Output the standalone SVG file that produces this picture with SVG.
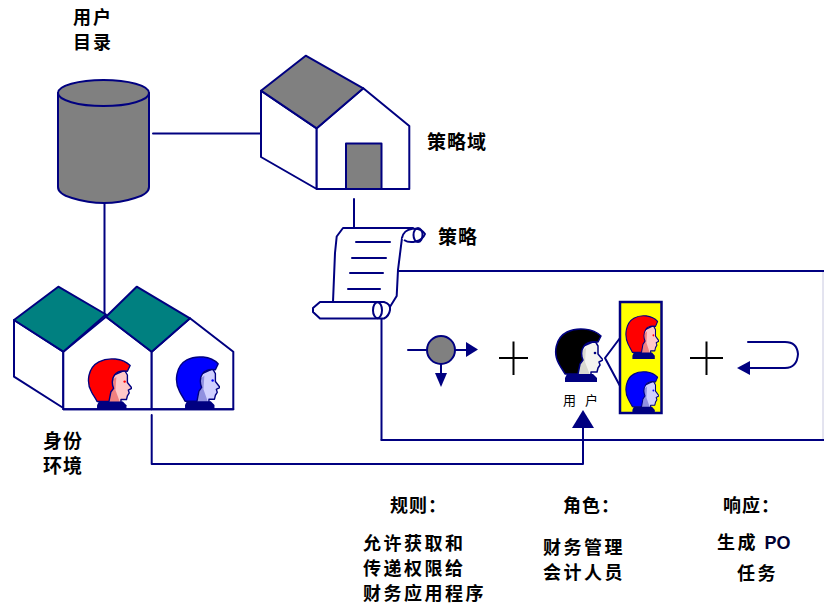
<svg xmlns="http://www.w3.org/2000/svg" xmlns:xlink="http://www.w3.org/1999/xlink" width="824" height="605" viewBox="0 0 824 605">
  <style>
    .ln { fill: none; stroke: #000080; stroke-width: 2; stroke-linejoin: round; stroke-linecap: round; }
    .wall { fill: #ffffff; stroke: #000080; stroke-width: 2; stroke-linejoin: round; }
    .gray { fill: #808080; stroke: #000080; stroke-width: 2; stroke-linejoin: round; }
    .teal { fill: #008080; stroke: #000080; stroke-width: 2; stroke-linejoin: round; }
    .plus { stroke: #000000; stroke-width: 2; fill: none; }
    .lbl { font-family: "Noto Sans CJK SC", "Liberation Sans", sans-serif; font-weight: bold; font-size: 19px; letter-spacing: 1px; fill: #000000; }
    .lbl2 { font-family: "Noto Sans CJK SC", "Liberation Sans", sans-serif; font-weight: bold; font-size: 18px; letter-spacing: 2px; fill: #000000; }
    .txt { font-family: "Noto Sans CJK SC", "Liberation Sans", sans-serif; font-weight: bold; font-size: 18px; letter-spacing: 2.5px; fill: #000000; }
    .hdr { font-family: "Noto Sans CJK SC", "Liberation Sans", sans-serif; font-weight: bold; font-size: 18px; letter-spacing: 1px; fill: #000000; }
    .small { font-family: "Noto Sans CJK SC", "Liberation Sans", sans-serif; font-size: 13px; letter-spacing: 9px; fill: #000000; }
  </style>
  <defs>
    <!-- profile head facing right; hair uses currentColor, skin uses CSS variables -->
    <symbol id="head" viewBox="0 0 50 54" preserveAspectRatio="none">
      <path d="M26,20 L42,13 L45,18 L45,26 L50,32 L46,34 L47,37 L45,40 L44,44 L38,44 L38,48 L24,48 L25,38 L24,30 Z" style="fill: var(--skin)" stroke="#000080" stroke-width="1.5" stroke-linejoin="round"/>
      <path d="M27,24 L33,20 L32,34 L37,47 L25,47 L26,38 Z" style="fill: var(--shade)"/>
      <path d="M6,36 C0,26 2,10 14,4 C24,-1 40,0 48,8 L45,14 C38,13 34,14 31,18 C28,22 28,28 30,32 L27,36 L25,46 L12,46 C10,42 8,40 6,36 Z" fill="currentColor" stroke="#000080" stroke-width="1.5" stroke-linejoin="round"/>
      <circle cx="42" cy="25" r="1.3" style="fill: var(--eye)"/>
      <path d="M14,46 L40,46 L44,50 L44,54 L12,54 L12,50 Z" fill="#000080"/>
    </symbol>
  </defs>

  <!-- connectors -->
  <g id="connectors">
    <line class="ln" x1="153" y1="133.5" x2="261" y2="133.5"/>
    <line class="ln" x1="104.5" y1="203" x2="104.5" y2="314"/>
    <line class="ln" x1="354" y1="199" x2="354" y2="228"/>
    <line class="ln" x1="398" y1="271" x2="824" y2="271"/>
    <line class="ln" x1="381.5" y1="318" x2="381.5" y2="440"/>
    <line class="ln" x1="381.5" y1="440" x2="824" y2="440"/>
    <line x1="823" y1="272" x2="823" y2="439" stroke="#c8c8e0" stroke-width="1"/>
    <polyline class="ln" points="151.7,415 151.7,464 583,464 583,427"/>
    <polygon points="583,410 572,428 594,428" fill="#000080"/>
    <polyline class="ln" points="620,338 605,358 620,386"/>
  </g>

  <!-- user directory -->
  <g id="user-directory">
    <path class="gray" d="M58,93 L58,187 Q58,194 72,198 Q88,203 104,203 Q120,203 135,198 Q149,194 149,187 L149,93 Z"/>
    <ellipse class="gray" cx="103.5" cy="93" rx="45.5" ry="13"/>
    <text class="lbl2" x="73" y="24">用户<tspan x="73" dy="25">目录</tspan></text>
  </g>

  <!-- policy domain -->
  <g id="policy-domain">
    <polygon class="wall" points="261,90.7 316.7,128.3 316.7,189 261,157"/>
    <polygon class="wall" points="316.7,128.3 363.3,88.3 409.3,126 409.3,189 316.7,189"/>
    <polygon class="gray" points="305.7,55.7 261,90.7 316.7,128.3 363.3,88.3"/>
    <rect class="gray" x="346" y="143.5" width="35.5" height="45.5"/>
    <text class="lbl" x="427" y="149">策略域</text>
  </g>

  <!-- policy scroll -->
  <g id="policy">
    <path class="wall" d="M343,228 L413,228 L402,238 L398,270 L396.7,296 L388,310 L385,317 L333,302 L335,253 L336.7,236.5 Z"/>
    <path class="wall" d="M402,238 C404,227 420,226 425,234 C422,242 410,244 404,240"/>
    <ellipse class="ln" cx="418" cy="235" rx="4.5" ry="7"/>
    <line class="ln" x1="356" y1="242" x2="390" y2="242"/>
    <line class="ln" x1="352" y1="258" x2="386" y2="258"/>
    <line class="ln" x1="350" y1="273" x2="383" y2="273"/>
    <line class="ln" x1="348" y1="289" x2="380" y2="289"/>
    <path class="wall" d="M320,302 L384,302 Q391,304 390,310 Q389,316 384,318.5 L320,318.5 L313,312 L313,308 Z"/>
    <ellipse class="ln" cx="377.5" cy="310.2" rx="4.5" ry="8"/>
    <text class="lbl" x="438" y="244">策略</text>
  </g>

  <!-- identity environment -->
  <g id="identity-environment">
    <polygon class="wall" points="14,320 63.3,351.7 63.3,408 14,376.7"/>
    <polygon class="wall" points="63.3,351.7 106,316.7 151.7,351.7 151.7,409.3 63.3,409.3"/>
    <polygon class="wall" points="151.7,351.7 190,318.3 233.3,351.7 233.3,409.3 151.7,409.3"/>
    <polygon class="teal" points="14,320 58.3,286.7 106,314.5 63.3,351.7"/>
    <polygon class="teal" points="106,316.7 136.7,286.7 190,318.3 151.7,351.7"/>
    <use xlink:href="#head" x="86" y="358" width="46" height="51" style="color:#ff0000; --skin:#ffc8c8; --shade:#f08080; --eye:#ff0000"/>
    <use xlink:href="#head" x="174" y="356" width="46" height="53" style="color:#0000ff; --skin:#d0d0ff; --shade:#9090e0; --eye:#0000ff"/>
    <line class="ln" x1="63.3" y1="409.3" x2="233.3" y2="409.3"/>
    <text class="lbl" x="43" y="448">身份<tspan x="43" dy="25">环境</tspan></text>
  </g>

  <!-- rule: process node -->
  <g id="rule-node">
    <line class="ln" x1="408" y1="350" x2="427" y2="350"/>
    <line class="ln" x1="455" y1="350" x2="467" y2="350"/>
    <line class="ln" x1="441" y1="364" x2="441" y2="374"/>
    <circle class="gray" cx="441" cy="350" r="14"/>
    <polygon points="466,342 478,349.5 466,357" fill="#000080"/>
    <polygon points="435,373 447,373 441,387" fill="#000080"/>
  </g>

  <g id="plus-1"><path class="plus" d="M499,358 H528 M513.5,341.5 V375"/></g>

  <!-- role: user -->
  <g id="user">
    <use xlink:href="#head" x="553" y="328" width="50" height="54" style="color:#000000; --skin:#f4f4f0; --shade:#d8d8d0; --eye:#000080"/>
    <text class="small" x="563" y="405">用户</text>
  </g>

  <g id="roles">
    <rect x="620" y="302" width="41.5" height="111" fill="#ffff00" stroke="#000080" stroke-width="2.5"/>
    <use xlink:href="#head" x="624" y="315" width="35" height="44" style="color:#ff0000; --skin:#ffc8c8; --shade:#f08080; --eye:#ff0000"/>
    <use xlink:href="#head" x="624" y="371" width="35" height="42" style="color:#0000ff; --skin:#d0d0ff; --shade:#9090e0; --eye:#0000ff"/>
  </g>

  <g id="plus-2"><path class="plus" d="M690,358 H723 M706.5,341.5 V375"/></g>

  <!-- response: loop back -->
  <g id="response">
    <path class="ln" d="M748,342 L785,342 Q797,342 798,354 Q797,368 785,368 L749,368"/>
    <polygon points="750,361 737,368 750,375" fill="#000080"/>
  </g>

  <!-- captions -->
  <g id="rule-text">
    <text class="hdr" x="390" y="512">规则：</text>
    <text class="txt" x="363" y="550">允许获取和<tspan x="363" dy="25">传递权限给</tspan><tspan x="363" dy="25">财务应用程序</tspan></text>
  </g>
  <g id="role-text">
    <text class="hdr" x="563" y="512">角色：</text>
    <text class="txt" x="543" y="554">财务管理<tspan x="543" dy="25">会计人员</tspan></text>
  </g>
  <g id="response-text">
    <text class="hdr" x="723" y="512">响应：</text>
    <text class="txt" x="717" y="549">生成 <tspan font-family="Liberation Sans, sans-serif" letter-spacing="0" fill="#000033">PO</tspan></text>
    <text class="txt" x="737" y="580">任务</text>
  </g>
</svg>
